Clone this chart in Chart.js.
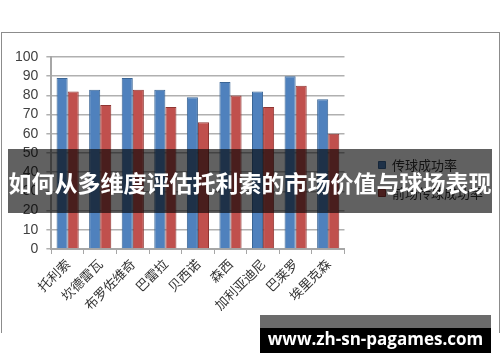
<!DOCTYPE html>
<html>
<head>
<meta charset="utf-8">
<script src="https://cdn.jsdelivr.net/npm/chart.js@4.4.0/dist/chart.umd.min.js"></script>
<style>
    body { margin: 0; background: #fff; }
    #wrap { position: relative; width: 500px; height: 362px; overflow: hidden; }
    #frame { position: absolute; left: 1px; top: 32px; width: 497px; height: 300px; border: 1px solid #8c8c8c; border-bottom: none; }
    #banner {
        position: absolute; left: 8px; top: 149px; width: 484px; height: 64px;
        background: rgba(0, 0, 0, 0.62); color: #fff;
        font: bold 23px "Noto Sans CJK SC", sans-serif;
        line-height: 66px; text-align: center; white-space: nowrap;
    }
    #markTop { position: absolute; left: 260px; top: 315px; width: 231px; height: 13px; background: rgba(0, 0, 0, 0.58); }
    #mark {
        position: absolute; left: 260px; top: 328px; width: 231px; height: 25px;
        background: #000; color: #fff; font: bold 17px "Open Sans", sans-serif;
        line-height: 22px; text-align: center; white-space: nowrap;
    }
</style>
</head>
<body>
<div id="wrap">
    <div id="frame"></div>
    <canvas id="myChart" width="500" height="362"></canvas>
    <div id="banner">如何从多维度评估托利索的市场价值与球场表现</div>
    <div id="markTop"></div>
    <div id="mark">www.zh-sn-pagames.com</div>
</div>
<script>
const players = ["托利索", "坎德雷瓦", "布罗佐维奇", "巴雷拉", "贝西诺", "森西", "加利亚迪尼", "巴莱罗", "埃里克森"]
const passRate = [89, 83, 89, 83, 79, 87, 82, 90, 78]
const frontPassRate = [82, 75, 83, 74, 66, 80, 74, 85, 60]
const seriesNames = ["传球成功率", "前场传球成功率"]

const data = {
    labels: players,
    datasets: [{
        label: seriesNames[0],
        data: passRate,
        backgroundColor: '#4f81bd',
        borderColor: '#3a6595',
        borderWidth: 1,
        categoryPercentage: 0.68,
        barPercentage: 1
    }, {
        label: seriesNames[1],
        data: frontPassRate,
        backgroundColor: '#c0504d',
        borderColor: '#8f3532',
        borderWidth: 1,
        categoryPercentage: 0.68,
        barPercentage: 1
    }]
}

// legend sits a bit higher than the centre in the original
const legendShift = {
    id: 'legendShift',
    afterInit: (chart) => {
        const legend = chart.legend
        const origDraw = legend.draw
        legend.draw = function () {
            chart.ctx.save()
            chart.ctx.translate(0, -7)
            origDraw.call(this)
            chart.ctx.restore()
        }
    }
}

const config = {
    type: 'bar',
    data: data,
    plugins: [legendShift],
    options: {
        responsive: false,
        devicePixelRatio: 1,
        animation: false,
        layout: { padding: { left: 7, right: 7, top: 57, bottom: 47 } },
        plugins: {
            legend: {
                position: 'right',
                maxWidth: 150,
                labels: {
                    boxWidth: 7,
                    boxHeight: 7,
                    padding: 15,
                    color: '#333',
                    font: { size: 13, family: '"Noto Sans CJK SC", sans-serif' }
                }
            },
            tooltip: { enabled: false }
        },
        scales: {
            x: {
                grid: { display: true, drawOnChartArea: false, drawTicks: true, tickLength: 5, color: '#a6a6a6' },
                border: { color: '#a6a6a6', width: 2 },
                ticks: {
                    minRotation: 45,
                    maxRotation: 45,
                    color: '#333',
                    padding: 2,
                    font: { size: 13, family: '"Noto Sans CJK SC", sans-serif' }
                }
            },
            y: {
                min: 0,
                max: 100,
                ticks: {
                    stepSize: 10,
                    autoSkip: false,
                    color: '#404040',
                    padding: 8,
                    font: { size: 14, family: '"Liberation Sans", sans-serif' }
                },
                grid: { color: '#b0b0b0', lineWidth: 1.5, tickLength: 5 },
                border: { color: '#a6a6a6', width: 2 }
            },
            // empty axis on the right, only keeps a gap before the legend
            gap: {
                position: 'right',
                min: 0,
                max: 100,
                grid: { display: false },
                border: { display: false },
                ticks: { display: false },
                afterFit: (scale) => { scale.width = 19 }
            }
        }
    }
}

new Chart(document.querySelector("#myChart"), config)
</script>
</body>
</html>
